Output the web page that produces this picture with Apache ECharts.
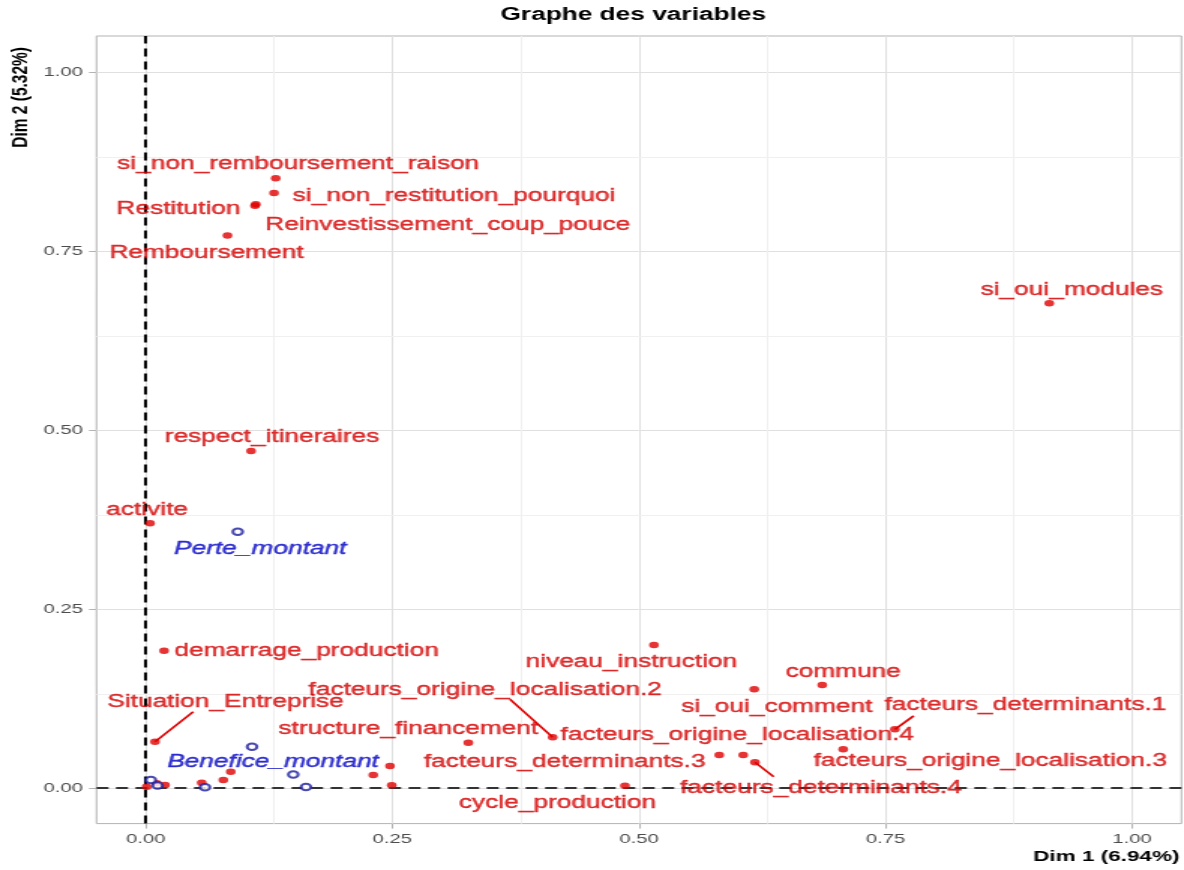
<!DOCTYPE html>
<html>
<head>
<meta charset="utf-8">
<title>Graphe des variables</title>
<script src="https://cdn.jsdelivr.net/npm/echarts@6/dist/echarts.min.js"></script>
<style>
  html, body { margin: 0; padding: 0; background: #fff; overflow: hidden; }
  /* the source picture is stretched sideways: draw it narrow, then widen */
  #chart { width: 789px; height: 870px; transform: scaleX(1.5006); transform-origin: 0 0; }
</style>
</head>
<body>
<div id="chart"></div>
<script>
// variables actives (rouge)
const redNames = [
  'si_non_remboursement_raison', 'si_non_restitution_pourquoi', 'Restitution',
  'Reinvestissement_coup_pouce', 'Remboursement', 'si_oui_modules',
  'respect_itineraires', 'activite', 'demarrage_production', 'niveau_instruction',
  'commune', 'si_oui_comment', 'facteurs_determinants.1',
  'facteurs_origine_localisation.3', 'facteurs_origine_localisation.2',
  'structure_financement', 'Situation_Entreprise', 'facteurs_determinants.3',
  'facteurs_origine_localisation.4', 'facteurs_determinants.4', 'cycle_production',
  '', '', '', '', '', '', '', '', ''
]
const redX = [
  0.1317, 0.1300, 0.1107, 0.1115, 0.0828, 0.9160, 0.1067, 0.0043, 0.0185, 0.5152,
  0.6858, 0.6169, 0.7595, 0.7071, 0.4125, 0.3270, 0.0093, 0.5814, 0.6057, 0.6176,
  0.4858, 0.2476, 0.2493, 0.2306, 0.0861, 0.0786, 0.0567, 0.0195, 0.0111, 0.0009
]
const redY = [
  0.8514, 0.8307, 0.8130, 0.8150, 0.7715, 0.6767, 0.4704, 0.3694, 0.1915, 0.1994,
  0.1436, 0.1376, 0.0817, 0.0538, 0.0705, 0.0630, 0.0644, 0.0458, 0.0458, 0.0356,
  0.0029, 0.0304, 0.0035, 0.0179, 0.0225, 0.0109, 0.0071, 0.0039, 0.0063, 0.0015
]

// variables supplementaires (bleu)
const blueNames = ['Perte_montant', 'Benefice_montant', '', '', '', '', '']
const blueX = [0.0932, 0.1077, 0.1495, 0.1624, 0.0600, 0.0051, 0.0119]
const blueY = [0.3577, 0.0574, 0.0186, 0.0011, 0.0007, 0.0109, 0.0032]

const tickValues = [0, 0.25, 0.5, 0.75, 1]
const tickLabels = ['0.00', '0.25', '0.50', '0.75', '1.00']
const minorValues = [0.125, 0.375, 0.625, 0.875]

const RED = '#e00000'
const RED_TEXT = '#d40000'
const BLUE = '#1a1a9e'
const BLUE_TEXT = '#0000c4'
const FONT = "'Liberation Sans', Arial, sans-serif"

// where each label sits relative to its point (like ggrepel did it)
const labelOffsets = {
  'si_non_remboursement_raison': [15, -14],
  'si_non_restitution_pourquoi': [120, 3],
  'Restitution': [-51, 3],
  'Reinvestissement_coup_pouce': [128, 21],
  'Remboursement': [-14, 18],
  'si_oui_modules': [15, -13],
  'respect_itineraires': [14, -14],
  'activite': [-2, -13],
  'demarrage_production': [95, 0],
  'niveau_instruction': [-15, 17],
  'commune': [14, -13],
  'si_oui_comment': [15, 18],
  'facteurs_determinants.1': [87, -24],
  'facteurs_origine_localisation.3': [98, 12],
  'facteurs_origine_localisation.2': [-45, -47],
  'structure_financement': [-40, -14],
  'Situation_Entreprise': [47, -40],
  'facteurs_determinants.3': [-103, 7],
  'facteurs_origine_localisation.4': [-4, -20],
  'facteurs_determinants.4': [44, 26],
  'cycle_production': [-45, 17],
  'Perte_montant': [15, 17],
  'Benefice_montant': [14, 15]
}
// segment ends (px from the point) for the labels pushed far away
const leaderEnds = {
  'Situation_Entreprise': [25.5, -30],
  'facteurs_origine_localisation.2': [-28.5, -38],
  'facteurs_determinants.1': [12.5, -13.5],
  'facteurs_determinants.4': [12.5, 14.5]
}

function toPoints (names, xs, ys) {
  return names.map((n, i) => ({ name: n, value: [xs[i], ys[i]] }))
}

const leaderPoints = toPoints(redNames, redX, redY).filter(d => leaderEnds[d.name])

function placeLabel (p) {
  const off = labelOffsets[p.text]
  if (!off) return {}
  return { dx: off[0], dy: off[1] }
}

const gridLines = []
tickValues.forEach(v => {
  gridLines.push({ xAxis: v, lineStyle: { color: '#e0e0e0', width: 1, type: 'solid' } })
  gridLines.push({ yAxis: v, lineStyle: { color: '#e0e0e0', width: 1, type: 'solid' } })
})
minorValues.forEach(v => {
  gridLines.push({ xAxis: v, lineStyle: { color: '#f0f0f0', width: 1, type: 'solid' } })
  gridLines.push({ yAxis: v, lineStyle: { color: '#f0f0f0', width: 1, type: 'solid' } })
})

const axisCommon = {
  type: 'value',
  min: -0.05,
  max: 1.05,
  axisLine: { show: false, onZero: false },
  axisTick: { show: true, length: 5, lineStyle: { color: '#b3b3b3' }, customValues: tickValues },
  axisLabel: {
    customValues: tickValues,
    formatter: v => tickLabels[tickValues.indexOf(v)] || '',
    color: '#4d4d4d',
    fontSize: 13.5,
    fontFamily: FONT,
    margin: 9
  },
  splitLine: { show: false }
}

const labelCommon = {
  show: true,
  position: 'inside',
  formatter: '{b}',
  fontSize: 17.5,
  fontFamily: FONT,
  textBorderWidth: 0.4
}

const chart = echarts.init(document.getElementById('chart'))
chart.setOption({
  animation: false,
  backgroundColor: '#fff',
  grid: {
    left: 64.3, right: 1.7, top: 36, bottom: 46.4,
    show: true, borderColor: '#b3b3b3', borderWidth: 1
  },
  xAxis: axisCommon,
  yAxis: axisCommon,
  graphic: [
    {
      type: 'text', x: 422, y: 15,
      style: { text: 'Graphe des variables', fontSize: 17.5, fontWeight: 'bold', fontFamily: FONT, fill: '#000', align: 'center', verticalAlign: 'middle' }
    },
    {
      type: 'text', x: 786, y: 857,
      style: { text: 'Dim 1 (6.94%)', fontSize: 15, fontWeight: 'bold', fontFamily: FONT, fill: '#000', align: 'right', verticalAlign: 'middle' }
    },
    {
      type: 'text', x: 14, y: 47, rotation: Math.PI / 2,
      style: { text: 'Dim 2 (5.32%)', fontSize: 15.5, fontWeight: 'bold', fontFamily: FONT, fill: '#000', align: 'right', verticalAlign: 'middle' }
    }
  ],
  series: [
    {
      name: 'segments',
      type: 'custom',
      z: 2,
      silent: true,
      data: leaderPoints,
      renderItem: (params, api) => {
        const p = api.coord([api.value(0), api.value(1)])
        const end = leaderEnds[leaderPoints[params.dataIndex].name]
        return {
          type: 'line',
          shape: { x1: p[0], y1: p[1], x2: p[0] + end[0], y2: p[1] + end[1] },
          style: { stroke: RED, lineWidth: 1.7 }
        }
      }
    },
    {
      name: 'actives',
      type: 'scatter',
      z: 3,
      symbolSize: 6.5,
      itemStyle: { color: RED },
      data: toPoints(redNames, redX, redY),
      label: Object.assign({}, labelCommon, { color: RED_TEXT, textBorderColor: RED_TEXT }),
      labelLayout: placeLabel,
      markLine: {
        z: 1, silent: true, symbol: 'none', animation: false,
        label: { show: false },
        data: gridLines
      }
    },
    {
      name: 'supplementaires',
      type: 'scatter',
      z: 3,
      symbol: 'emptyCircle',
      symbolSize: 6.5,
      itemStyle: { color: BLUE, borderWidth: 1 },
      data: toPoints(blueNames, blueX, blueY),
      label: Object.assign({}, labelCommon, { color: BLUE_TEXT, textBorderColor: BLUE_TEXT, fontStyle: 'italic' }),
      labelLayout: placeLabel,
      markLine: {
        z: 2, silent: true, symbol: 'none', animation: false,
        label: { show: false },
        data: [
          { xAxis: 0, lineStyle: { color: '#000', width: 2, type: [8, 5] } },
          { yAxis: 0, lineStyle: { color: '#333', width: 2, type: [8, 5] } }
        ]
      }
    }
  ]
})
</script>
</body>
</html>
